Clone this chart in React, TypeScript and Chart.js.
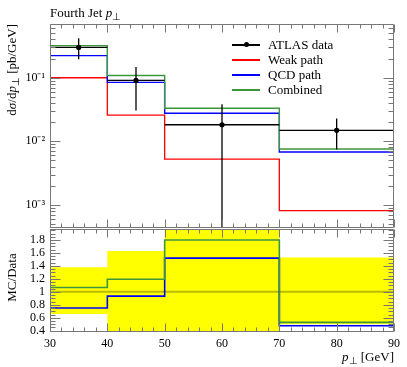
import React, { useEffect, useRef } from "react";
import { Chart, registerables } from "chart.js";

Chart.register(...registerables);

// ---- data ----
const binEdges = [30, 40, 50, 70, 90];
const binCenters = [35, 45, 60, 80];
const dataValues = [0.3, 0.0908, 0.0182, 0.0149];
const dataErrUp = [0.417, 0.147, 0.0383, 0.0229];
const dataErrDown = [0.196, 0.0305, -0.0019, 0.0074];
const weakValues = [0.1, 0.0258, 0.00523, 0.000814];
const qcdValues = [0.223, 0.0845, 0.0277, 0.0068];
const combinedValues = [0.32, 0.1086, 0.0331, 0.00758];

const ratioQcd = [0.75, 0.934, 1.52, 0.477];
const ratioCombined = [1.066, 1.195, 1.8, 0.528];
const ratioBandUp = [1.38, 1.63, 2.09, 1.53];
const ratioBandDown = [0.657, 0.33, -0.09, 0.5];

const legendLabels = ["ATLAS data", "Weak path", "QCD path", "Combined"];
const legendColors = ["#000000", "#ff0000", "#0000ff", "#3c963c"];

const xTicks = [30, 40, 50, 60, 70, 80, 90];
const xTickLabels = ["30", "40", "50", "60", "70", "80", "90"];
const logTicks = [0.001, 0.01, 0.1];
const logTickLabels = ["10\u207B\u00B3", "10\u207B\u00B2", "10\u207B\u00B9"];
const ratioTicks = [0.4, 0.6, 0.8, 1, 1.2, 1.4, 1.6, 1.8];
const ratioTickLabels = ["0.4", "0.6", "0.8", "1", "1.2", "1.4", "1.6", "1.8"];

const X_MIN = 30;
const X_MAX = 90;
const TOP_Y_MIN = 4.33e-4;
const TOP_Y_MAX = 0.7;
const RATIO_MIN = 0.38;
const RATIO_MAX = 1.97;

const FONT = '"Liberation Serif", "Times New Roman", serif';
const FRAME = "#777777";

// ---- helpers ----
function histo(vals: number[]) {
  return binEdges.map((x, i) => ({ x, y: vals[Math.min(i, vals.length - 1)] }));
}

function dataHorizontal() {
  const pts: any[] = [];
  dataValues.forEach((v, i) => {
    pts.push({ x: binEdges[i], y: v }, { x: binEdges[i + 1], y: v }, { x: binEdges[i + 1], y: null });
  });
  return pts;
}

function dataVertical() {
  const pts: any[] = [];
  binCenters.forEach((c, i) => {
    pts.push(
      { x: c, y: Math.max(dataErrDown[i], TOP_Y_MIN) },
      { x: c, y: dataErrUp[i] },
      { x: c, y: null }
    );
  });
  return pts;
}

function xMinorTicks() {
  const out: number[] = [];
  for (let v = X_MIN; v <= X_MAX; v += 2) if (!xTicks.includes(v)) out.push(v);
  return out;
}

function logMinorTicks() {
  const out: number[] = [];
  for (let e = -4; e <= 0; e++) {
    for (let m = 2; m <= 9; m++) {
      const v = m * Math.pow(10, e);
      if (v > TOP_Y_MIN && v < TOP_Y_MAX) out.push(v);
    }
  }
  return out;
}

function ratioMinorTicks() {
  const out: number[] = [];
  for (let k = 8; k <= 39; k++) {
    const v = k * 0.05;
    if (v > RATIO_MIN && v < RATIO_MAX && Math.abs(v * 5 - Math.round(v * 5)) > 1e-6) out.push(v);
  }
  return out;
}

function framePlugin(yMajor: number[], yMinor: number[]) {
  return {
    id: "frameTicks",
    afterDraw(chart: any) {
      const { ctx, chartArea: a, scales } = chart;
      const xs = scales.x;
      const ys = scales.y;
      const L = Math.round(a.left) + 0.5;
      const R = Math.round(a.right) - 0.5;
      const T = Math.round(a.top) + 0.5;
      const B = Math.round(a.bottom) - 0.5;
      ctx.save();
      ctx.strokeStyle = FRAME;
      ctx.lineWidth = 1;
      ctx.beginPath();
      ctx.rect(L, T, R - L, B - T);
      const xt = (v: number, len: number) => {
        const p = Math.round(xs.getPixelForValue(v)) + 0.5;
        ctx.moveTo(p, T);
        ctx.lineTo(p, T + len);
        ctx.moveTo(p, B);
        ctx.lineTo(p, B - len);
      };
      const yt = (v: number, len: number) => {
        const p = Math.round(ys.getPixelForValue(v)) + 0.5;
        if (p < T || p > B) return;
        ctx.moveTo(L, p);
        ctx.lineTo(L + len, p);
        ctx.moveTo(R, p);
        ctx.lineTo(R - len, p);
      };
      xTicks.forEach((v) => xt(v, 8));
      xMinorTicks().forEach((v) => xt(v, 4));
      yMajor.forEach((v) => yt(v, 10));
      yMinor.forEach((v) => yt(v, 5));
      ctx.stroke();
      ctx.restore();
    },
  };
}

const lineDs = (label: string, data: any[], color: string, width: number, extra: any = {}) => ({
  type: "line" as const,
  label,
  data,
  borderColor: color,
  backgroundColor: color,
  borderWidth: width,
  pointRadius: 0,
  tension: 0,
  spanGaps: false,
  ...extra,
});

export default function App() {
  const topRef = useRef<HTMLCanvasElement>(null);
  const botRef = useRef<HTMLCanvasElement>(null);

  useEffect(() => {
    const tickFont = { family: FONT, size: 12 };

    const top = new Chart(topRef.current as HTMLCanvasElement, {
      type: "line",
      data: {
        datasets: [
          {
            type: "line",
            label: "data points",
            data: binCenters.map((c, i) => ({ x: c, y: dataValues[i] })),
            showLine: false,
            pointRadius: 2.6,
            pointBackgroundColor: "#000",
            pointBorderColor: "#000",
            pointBorderWidth: 0,
          } as any,
          lineDs("data x", dataHorizontal(), "#000", 1.3),
          lineDs("data err", dataVertical(), "#000", 1.3),
          lineDs(legendLabels[3], histo(combinedValues), legendColors[3], 1.4, { stepped: "before" }),
          lineDs(legendLabels[2], histo(qcdValues), legendColors[2], 1.4, { stepped: "before" }),
          lineDs(legendLabels[1], histo(weakValues), legendColors[1], 1.3, { stepped: "before" }),
        ],
      },
      options: {
        responsive: false,
        animation: false,
        events: [],
        layout: { padding: { left: 0, right: 13, top: 24, bottom: 3 } },
        plugins: { legend: { display: false }, tooltip: { enabled: false }, title: { display: false } },
        scales: {
          x: { type: "linear", min: X_MIN, max: X_MAX, display: false },
          y: {
            type: "logarithmic",
            min: TOP_Y_MIN,
            max: TOP_Y_MAX,
            grid: { display: false, drawTicks: false },
            border: { display: false },
            afterBuildTicks: (s: any) => {
              s.ticks = logTicks.map((v) => ({ value: v }));
            },
            afterFit: (s: any) => {
              s.width = 50;
              s.paddingTop = 0;
              s.paddingBottom = 0;
            },
            ticks: {
              autoSkip: false,
              padding: 5,
              color: "#000",
              font: tickFont,
              callback: (v: any) => logTickLabels[logTicks.indexOf(v)] ?? "",
            },
          },
        },
      } as any,
      plugins: [framePlugin(logTicks, logMinorTicks())],
    });

    const bot = new Chart(botRef.current as HTMLCanvasElement, {
      type: "line",
      data: {
        datasets: [
          lineDs(legendLabels[3], histo(ratioCombined), legendColors[3], 1.6, { stepped: "before" }),
          lineDs(legendLabels[2], histo(ratioQcd), legendColors[2], 1.6, { stepped: "before" }),
          lineDs("unity", [{ x: X_MIN, y: 1 }, { x: X_MAX, y: 1 }], "rgba(60,60,0,0.35)", 2),
          lineDs("band up", histo(ratioBandUp), "rgba(0,0,0,0)", 0, {
            stepped: "before",
            fill: "+1",
            backgroundColor: "#ffff00",
          }),
          lineDs("band down", histo(ratioBandDown), "rgba(0,0,0,0)", 0, { stepped: "before" }),
        ],
      },
      options: {
        responsive: false,
        animation: false,
        events: [],
        layout: { padding: { left: 0, right: 13, top: 0, bottom: 0 } },
        plugins: { legend: { display: false }, tooltip: { enabled: false }, title: { display: false } },
        scales: {
          x: {
            type: "linear",
            min: X_MIN,
            max: X_MAX,
            grid: { display: false, drawTicks: false },
            border: { display: false },
            afterBuildTicks: (s: any) => {
              s.ticks = xTicks.map((v) => ({ value: v }));
            },
            afterFit: (s: any) => {
              s.height = 35;
              s.paddingLeft = 0;
              s.paddingRight = 0;
            },
            ticks: {
              autoSkip: false,
              maxRotation: 0,
              padding: 5,
              color: "#000",
              font: tickFont,
              callback: (v: any) => xTickLabels[xTicks.indexOf(v)] ?? "",
            },
          },
          y: {
            type: "linear",
            min: RATIO_MIN,
            max: RATIO_MAX,
            grid: { display: false, drawTicks: false },
            border: { display: false },
            afterBuildTicks: (s: any) => {
              s.ticks = ratioTicks.map((v) => ({ value: v }));
            },
            afterFit: (s: any) => {
              s.width = 50;
              s.paddingTop = 0;
              s.paddingBottom = 0;
            },
            ticks: {
              autoSkip: false,
              padding: 5,
              color: "#000",
              font: tickFont,
              callback: (v: any) => ratioTickLabels[ratioTicks.indexOf(v)] ?? "",
            },
          },
        },
      } as any,
      plugins: [framePlugin(ratioTicks, ratioMinorTicks())],
    });

    return () => {
      top.destroy();
      bot.destroy();
    };
  }, []);

  const textBase: React.CSSProperties = {
    position: "absolute",
    fontFamily: FONT,
    fontSize: 13,
    lineHeight: "15px",
    color: "#000",
    whiteSpace: "nowrap",
  };

  return (
    <div
      style={{
        position: "fixed",
        left: 0,
        top: 0,
        width: 407,
        height: 367,
        background: "#fff",
        overflow: "hidden",
      }}
    >
      <canvas ref={topRef} width={407} height={232} style={{ position: "absolute", left: 0, top: 0 }} />
      <canvas ref={botRef} width={407} height={138} style={{ position: "absolute", left: 0, top: 229 }} />

      <div style={{ ...textBase, left: 50, top: 5 }}>
        Fourth Jet <i>p</i>
        <sub style={{ fontSize: 10, verticalAlign: "-3px" }}>⊥</sub>
      </div>

      <div
        style={{
          ...textBase,
          left: 4,
          top: 229,
          width: 205,
          textAlign: "right",
          transformOrigin: "left top",
          transform: "rotate(-90deg)",
        }}
      >
        d<i>σ</i>/d<i>p</i>
        <sub style={{ fontSize: 10, verticalAlign: "-3px" }}>⊥</sub> [pb/GeV]
      </div>

      <div
        style={{
          ...textBase,
          left: 4,
          top: 329,
          width: 103,
          textAlign: "center",
          transformOrigin: "left top",
          transform: "rotate(-90deg)",
        }}
      >
        MC/Data
      </div>

      <div style={{ ...textBase, right: 13, top: 349 }}>
        <i>p</i>
        <sub style={{ fontSize: 10, verticalAlign: "-3px" }}>⊥</sub> [GeV]
      </div>

      {legendLabels.map((lab, i) => (
        <div key={lab} style={{ position: "absolute", left: 232, top: 45 + i * 15 - 8, height: 16, width: 140 }}>
          <div
            style={{
              position: "absolute",
              left: 0,
              top: 7,
              width: 28,
              height: 1.5,
              background: legendColors[i],
            }}
          />
          {i === 0 && (
            <div
              style={{
                position: "absolute",
                left: 11.5,
                top: 5.25,
                width: 5,
                height: 5,
                borderRadius: "50%",
                background: "#000",
              }}
            />
          )}
          <div style={{ ...textBase, left: 36, top: 0 }}>{lab}</div>
        </div>
      ))}
    </div>
  );
}
